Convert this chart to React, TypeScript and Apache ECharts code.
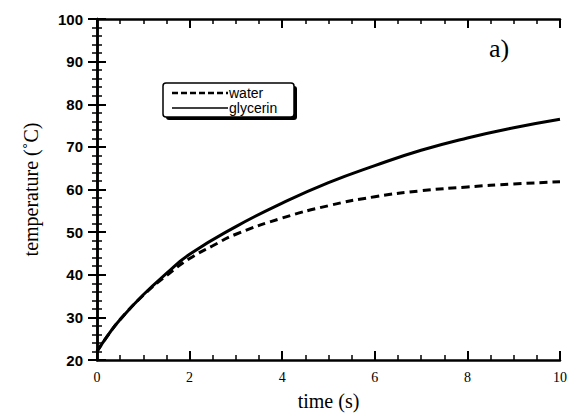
import React, { useEffect, useRef } from "react";
import * as echarts from "echarts";

const timeGly = [0, 0.25, 0.5, 1, 1.5, 2, 3, 4, 5, 6, 7, 8, 9, 10];
const glycerin = [22, 26, 29.5, 35.3, 40.3, 44.8, 51.3, 56.8, 61.6, 65.6, 69.2, 72.1, 74.5, 76.5];
const timeWater = [0, 0.25, 0.5, 1, 1.5, 2, 2.5, 3, 4, 5, 6, 7, 8, 9, 10];
const water = [22, 26, 29.5, 35.2, 39.8, 43.8, 46.8, 49.5, 53.3, 56.2, 58.3, 59.7, 60.6, 61.3, 61.8];
const legendNames = ["water", "glycerin"];

export default function App() {
  const ref = useRef<HTMLDivElement>(null);
  useEffect(() => {
    const chart = echarts.init(ref.current!, null, { renderer: "svg" });
    const axisLine = { show: true, lineStyle: { color: "#000", width: 2.5 } };
    const serif = "'Liberation Serif', 'Times New Roman', serif";
    const sans = "'Liberation Sans', Arial, sans-serif";
    const tick = { inside: true, length: 9, lineStyle: { width: 2, color: "#000" } };
    chart.setOption({
      animation: false,
      backgroundColor: "#fff",
      grid: { left: 97, right: 12, top: 19, bottom: 56, containLabel: false },
      xAxis: [
        {
          type: "value", min: 0, max: 10, interval: 2, position: "bottom",
          axisLine, splitLine: { show: false }, axisTick: tick,
          minorTick: { show: true, splitNumber: 4, length: 5, lineStyle: { width: 1.5, color: "#000" } },
          axisLabel: { color: "#000", fontFamily: serif, fontSize: 14, margin: 10 },
          name: "time (s)", nameLocation: "middle", nameGap: 31,
          nameTextStyle: { color: "#000", fontFamily: serif, fontSize: 20 },
        },
        {
          type: "value", min: 0, max: 10, interval: 2, position: "top",
          axisLine, splitLine: { show: false }, axisTick: tick,
          minorTick: { show: true, splitNumber: 4, length: 5, lineStyle: { width: 1.5, color: "#000" } },
          axisLabel: { show: false },
        },
      ],
      yAxis: [
        {
          type: "value", min: 20, max: 100, interval: 10, position: "left",
          axisLine, splitLine: { show: false }, axisTick: tick,
          minorTick: { show: true, splitNumber: 5, length: 5, lineStyle: { width: 1.5, color: "#000" } },
          axisLabel: { color: "#000", fontFamily: sans, fontWeight: "bold", fontSize: 15, margin: 14 },
          name: "temperature (\u02DAC)", nameLocation: "middle", nameGap: 56,
          nameTextStyle: { color: "#000", fontFamily: serif, fontSize: 20 },
        },
        {
          type: "value", min: 20, max: 100, interval: 10, position: "right",
          axisLine, splitLine: { show: false }, axisTick: tick,
          minorTick: { show: true, splitNumber: 5, length: 5, lineStyle: { width: 1.5, color: "#000" } },
          axisLabel: { show: false },
        },
      ],
      series: [
        {
          name: legendNames[0], type: "line", smooth: true, symbol: "none",
          data: timeWater.map((t, i) => [t, water[i]]),
          lineStyle: { color: "#000", width: 3, type: [8, 5] },
        },
        {
          name: legendNames[1], type: "line", smooth: true, symbol: "none",
          data: timeGly.map((t, i) => [t, glycerin[i]]),
          lineStyle: { color: "#000", width: 3 },
        },
      ],
      graphic: [
        { type: "rect", shape: { x: 166, y: 86, width: 131, height: 34, r: 3 }, style: { fill: "#000" } },
        { type: "rect", shape: { x: 163, y: 83, width: 131, height: 34, r: 3 }, style: { fill: "#fff", stroke: "#000", lineWidth: 1.5 } },
        { type: "line", shape: { x1: 172, y1: 93, x2: 228, y2: 93 }, style: { stroke: "#000", lineWidth: 2.5, lineDash: [6, 3] } },
        { type: "line", shape: { x1: 172, y1: 108, x2: 228, y2: 108 }, style: { stroke: "#000", lineWidth: 1.5 } },
        { type: "text", x: 229, y: 93, style: { text: legendNames[0], fill: "#000", font: `14px ${sans}`, textVerticalAlign: "middle" } },
        { type: "text", x: 229, y: 108, style: { text: legendNames[1], fill: "#000", font: `14px ${sans}`, textVerticalAlign: "middle" } },
        { type: "text", x: 489, y: 48, style: { text: "a)", fill: "#000", font: `26px ${serif}`, textVerticalAlign: "middle" } },
      ],
    });
    return () => chart.dispose();
  }, []);
  return <div ref={ref} style={{ position: "absolute", left: 0, top: 0, width: 572, height: 416 }} />;
}
